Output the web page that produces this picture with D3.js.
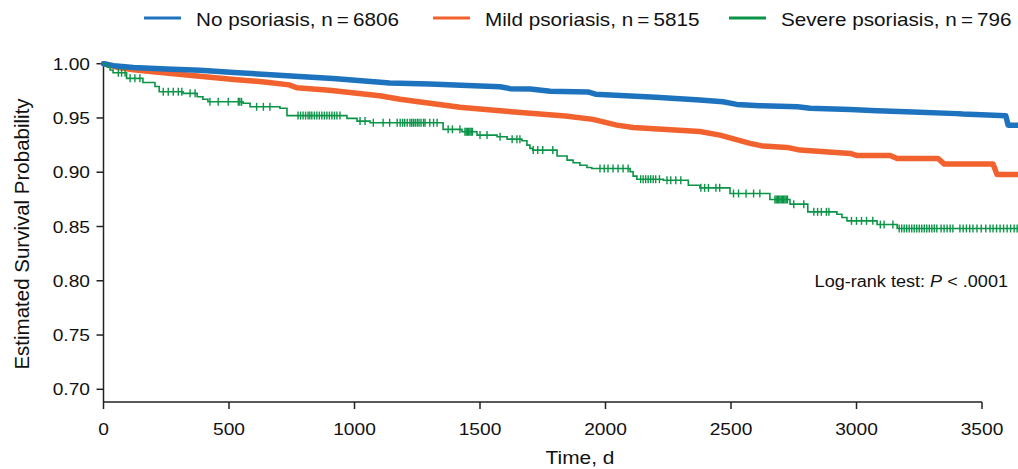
<!DOCTYPE html>
<html><head><meta charset="utf-8">
<script src="https://cdn.jsdelivr.net/npm/d3@7"></script>
<style>body{margin:0;background:#fff;} svg{display:block;} text{font-family:"Liberation Sans",Arial,Helvetica,sans-serif;fill:#111;}</style>
</head><body>
<svg id="c" width="1018" height="469"></svg>
<script>
// ---------- DATA ----------
const seriesNames = ["No psoriasis, n\u2009=\u20096806", "Mild psoriasis, n\u2009=\u20095815", "Severe psoriasis, n\u2009=\u2009796"];
const xTicks = [0, 500, 1000, 1500, 2000, 2500, 3000, 3500];
const yTicks = [0.70, 0.75, 0.80, 0.85, 0.90, 0.95, 1.00];

const blueDays = [0,40,119,250,385,520,650,780,915,1040,1140,1300,1450,1580,1620,1700,1780,1930,1960,2200,2376,2468,2523,2615,2765,2815,2974,3082,3225,3400,3424,3595,3604,3650];
const blueSurv = [1.000,0.9982,0.9966,0.9952,0.9940,0.9920,0.9900,0.9883,0.9863,0.9840,0.9822,0.9812,0.9800,0.9788,0.9770,0.9766,0.9746,0.9740,0.9719,0.9690,0.9665,0.9649,0.9625,0.9613,0.9603,0.9589,0.9579,0.9566,0.9554,0.9540,0.9536,0.9520,0.9434,0.9434];

const orangeDays = [0,60,119,250,384,520,650,740,770,900,1000,1100,1182,1300,1420,1580,1840,1950,2045,2110,2376,2456,2576,2628,2723,2775,2975,3000,3134,3162,3325,3350,3544,3560,3650];
const orangeSurv = [1.000,0.9965,0.9945,0.9915,0.9885,0.9855,0.9830,0.9805,0.9778,0.9755,0.9730,0.9705,0.9672,0.9635,0.9598,0.9566,0.9518,0.9487,0.9434,0.9413,0.9375,0.9342,0.9266,0.9241,0.9229,0.9204,0.9173,0.9155,0.9155,0.9127,0.9127,0.9075,0.9075,0.8978,0.8978];

const greenDays = [0,15,26,38,92,157,205,222,317,373,396,416,556,584,703,731,970,1010,1062,1353,1428,1488,1568,1608,1667,1687,1699,1710,1807,1847,1871,1898,1926,1945,2098,2110,2125,2230,2330,2376,2496,2655,2735,2806,2922,2942,2962,3082,3162,3645];
const greenSurv = [1.000,0.9970,0.9942,0.9917,0.9865,0.9827,0.9790,0.9742,0.9727,0.9696,0.9672,0.9649,0.9635,0.9603,0.9589,0.9522,0.9496,0.9471,0.9456,0.9395,0.9373,0.9342,0.9327,0.9305,0.9290,0.9250,0.9220,0.9204,0.9149,0.9112,0.9087,0.9065,0.9044,0.9035,0.9004,0.8964,0.8936,0.8926,0.8880,0.8856,0.8804,0.8749,0.8706,0.8635,0.8613,0.8583,0.8552,0.8518,0.8482,0.8482];
const greenCensor = [59,72,86,106,125,145,238,258,278,298,312,345,365,424,457,497,537,543,550,610,637,663,
  775,785,795,805,815,822,830,840,850,860,870,880,890,900,910,920,930,942,
  1022,1042,1075,1114,1140,1170,1182,1192,1200,1210,1221,1228,1235,1242,1250,1257,1265,1275,1281,1300,1315,1329,
  1373,1390,1420,1440,1445,1450,1455,1460,1465,1470,1500,1528,1580,1628,1647,1659,1712,1730,1750,1790,
  1978,1995,2010,2030,2050,2070,2090,2140,2150,2160,2170,2180,2190,2200,2215,2245,2260,2280,2300,
  2380,2395,2410,2440,2455,2510,2530,2560,2590,2615,2675,2680,2685,2690,2695,2700,2705,2710,2715,2720,2725,2750,2790,
  2830,2845,2860,2880,2890,2980,3000,3020,3040,3065,3095,3110,3145,
  3170,3180,3190,3200,3210,3220,3230,3240,3250,3260,3270,3280,3290,3300,3310,3320,
  3337,3349,3361,3373,3384,3412,3425,3438,3451,3464,3480,3497,3515,3532,3544,3558,3572,3586,3600,3614,3628,3640];

const colors = ["#1e73be", "#f2622e", "#0a9447"];

// ---------- LAYOUT ----------
const SX = 1.13; // horizontal text stretch of the reference
const svg = d3.select("#c");
const x = d3.scaleLinear().domain([0, 3500]).range([103.5, 982]);
const y = d3.scaleLinear().domain([0.6883, 1.0]).range([402, 63.7]);

function stext(g, tx, ty, str, size, anchor, extra) {
  const t = g.append("g").attr("transform", `translate(${tx},${ty}) scale(${SX},1)`)
    .append("text").attr("text-anchor", anchor).style("font-size", size + "px");
  if (extra) extra(t); else t.text(str);
  return t;
}

// axes
const axisCol = "#222";
const gx = svg.append("g").attr("transform", "translate(0,402)");
gx.append("line").attr("x1", x(0)).attr("x2", x(3500)).attr("stroke", axisCol).attr("stroke-width", 1.5);
xTicks.forEach(t => {
  gx.append("line").attr("x1", x(t)).attr("x2", x(t)).attr("y1", 0).attr("y2", 7).attr("stroke", axisCol).attr("stroke-width", 1.5);
  stext(gx, x(t), 33, String(t), 17, "middle");
});
const gy = svg.append("g");
gy.append("line").attr("x1", x(0)).attr("x2", x(0)).attr("y1", y(1.0) - 1.5).attr("y2", 402).attr("stroke", axisCol).attr("stroke-width", 1.5);
yTicks.forEach(t => {
  gy.append("line").attr("x1", x(0) - 7).attr("x2", x(0)).attr("y1", y(t)).attr("y2", y(t)).attr("stroke", axisCol).attr("stroke-width", 1.5);
  stext(gy, 90, y(t) + 6, t.toFixed(2), 17, "end");
});

// axis titles
svg.append("text").attr("transform", "translate(29,234) rotate(-90)").attr("text-anchor", "middle")
  .style("font-size", "20.5px").text("Estimated Survival Probability");
stext(svg, 580, 463.5, "Time, d", 18.5, "middle");

// lines
const lineLin = d3.line().x(d => x(d[0])).y(d => y(d[1])).curve(d3.curveLinear);
const lineStep = d3.line().x(d => x(d[0])).y(d => y(d[1])).curve(d3.curveStepAfter);
const gData = svg.append("g");
gData.append("path").datum(orangeDays.map((d, i) => [d, orangeSurv[i]]))
  .attr("d", lineLin).attr("fill", "none").attr("stroke", colors[1]).attr("stroke-width", 5.5)
  .attr("stroke-linejoin", "round").attr("stroke-linecap", "round");
gData.append("path").datum(blueDays.map((d, i) => [d, blueSurv[i]]))
  .attr("d", lineLin).attr("fill", "none").attr("stroke", colors[0]).attr("stroke-width", 5.5)
  .attr("stroke-linejoin", "round").attr("stroke-linecap", "round");
gData.append("path").datum(greenDays.map((d, i) => [d, greenSurv[i]]))
  .attr("d", lineStep).attr("fill", "none").attr("stroke", colors[2]).attr("stroke-width", 1.6);

function greenAt(day) {
  let v = greenSurv[0];
  for (let i = 0; i < greenDays.length; i++) { if (greenDays[i] <= day) v = greenSurv[i]; }
  return v;
}
gData.selectAll("line.cens").data(greenCensor).enter().append("line").attr("class", "cens")
  .attr("x1", d => x(d)).attr("x2", d => x(d))
  .attr("y1", d => y(greenAt(d)) - 4).attr("y2", d => y(greenAt(d)) + 4)
  .attr("stroke", colors[2]).attr("stroke-width", 1.4);

// annotation
stext(svg, 1008, 287, "", 16, "end", t => {
  t.append("tspan").text("Log-rank test: ");
  t.append("tspan").style("font-style", "italic").text("P");
  t.append("tspan").text(" < .0001");
});

// legend
const legX = [144, 433, 729];
const legG = svg.append("g");
seriesNames.forEach((n, i) => {
  legG.append("line").attr("x1", legX[i]).attr("x2", legX[i] + 37).attr("y1", 18).attr("y2", 18)
    .attr("stroke", colors[i]).attr("stroke-width", 3);
  stext(legG, legX[i] + 52, 25.5, n, 18.3, "start");
});
</script>
</body></html>
